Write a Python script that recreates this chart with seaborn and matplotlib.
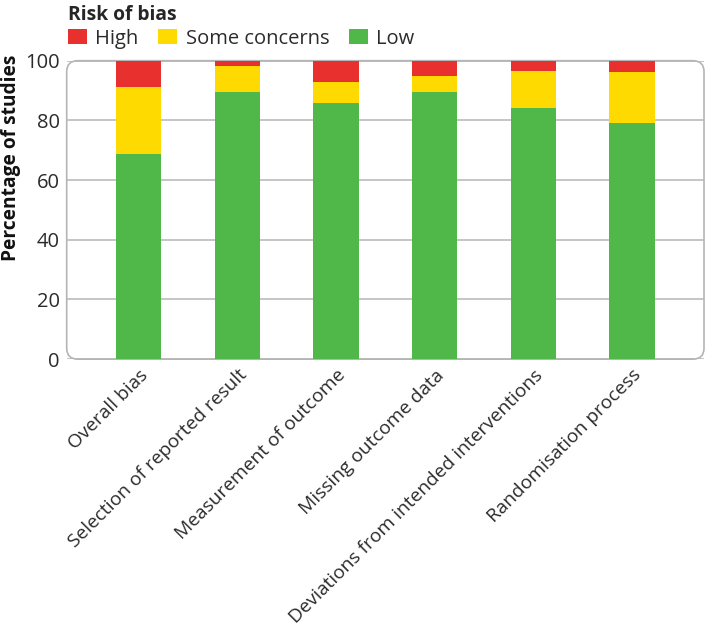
import numpy as np
import pandas as pd
import matplotlib
matplotlib.use("Agg")
import matplotlib.pyplot as plt
import seaborn as sns
from matplotlib.patches import FancyBboxPatch, Patch

# data (percent of studies)
domains = ["Overall bias", "Selection of reported result", "Measurement of outcome",
           "Missing outcome data", "Deviations from intended interventions",
           "Randomisation process"]
low = [68.7, 89.4, 85.9, 89.4, 84.2, 79.0]
some_concerns = [22.5, 8.7, 7.0, 5.4, 12.2, 17.2]
high = [8.8, 1.9, 7.1, 5.2, 3.6, 3.8]

levels = ["High", "Some concerns", "Low"]
colors = {"High": "#E8312F", "Some concerns": "#FFDA00", "Low": "#50B848"}

df = pd.DataFrame({"domain": domains, "Low": low,
                   "Some concerns": some_concerns, "High": high})
df["cum_low"] = df["Low"]
df["cum_sc"] = df["Low"] + df["Some concerns"]
df["cum_high"] = df["cum_sc"] + df["High"]

sns.set_style("white")
plt.rcParams["font.family"] = ["Open Sans", "DejaVu Sans"]
text_col = "#2b2b2b"

fig = plt.figure(figsize=(7.05, 6.29), dpi=100)
ax = fig.add_axes([0.0946, 0.429, 0.9040, 0.4745])

# stacked bars: draw cumulative totals from the top down
for col, lev in [("cum_high", "High"), ("cum_sc", "Some concerns"), ("cum_low", "Low")]:
    sns.barplot(data=df, x="domain", y=col, color=colors[lev], saturation=1,
                width=0.46, linewidth=0, ax=ax, zorder=3)

ax.set_xlim(-0.73, 5.73)
ax.set_ylim(0, 100)
ax.set_yticks([0, 20, 40, 60, 80, 100])
ax.yaxis.grid(True, color="#b5b5b5", linewidth=1.1, zorder=0)
ax.xaxis.grid(False)
for s in ax.spines.values():
    s.set_visible(False)

# rounded frame around plot area
w_px = 0.9040 * 705
h_px = 0.4745 * 629
r = 11 / w_px
box = FancyBboxPatch((0, 0), 1, 1, boxstyle=f"round,pad=0,rounding_size={r}",
                     mutation_aspect=w_px / h_px, transform=ax.transAxes,
                     facecolor="none", edgecolor="#b5b5b5", linewidth=1.2,
                     zorder=1, clip_on=False)
ax.add_patch(box)

ax.tick_params(axis="y", length=0, labelsize=14.5, colors=text_col, pad=5)
ax.tick_params(axis="x", length=0, labelsize=13.8, colors=text_col, pad=5)
ax.set_xticks(range(len(domains)))
ax.set_xticklabels(domains, rotation=45, ha="right", rotation_mode="anchor")
ax.set_xlabel("")
ax.set_ylabel("Percentage of studies", fontsize=13.8, fontweight="bold",
              color="#111111", loc="top")
ax.yaxis.set_label_coords(-0.071, 1.02)

handles = [Patch(facecolor=colors[l], edgecolor="none") for l in levels]
leg = fig.legend(handles, levels, loc="upper left", bbox_to_anchor=(0.079, 1.012),
                 ncol=3, frameon=False, fontsize=14.5, title="Risk of bias",
                 title_fontproperties={"weight": "bold", "size": 13.9},
                 alignment="left", handlelength=0.95, handleheight=0.7,
                 handletextpad=0.4, columnspacing=1.0, borderaxespad=0.2,
                 labelspacing=0.2)
for t in leg.get_texts():
    t.set_color(text_col)

fig.savefig("out.png", dpi=100)
